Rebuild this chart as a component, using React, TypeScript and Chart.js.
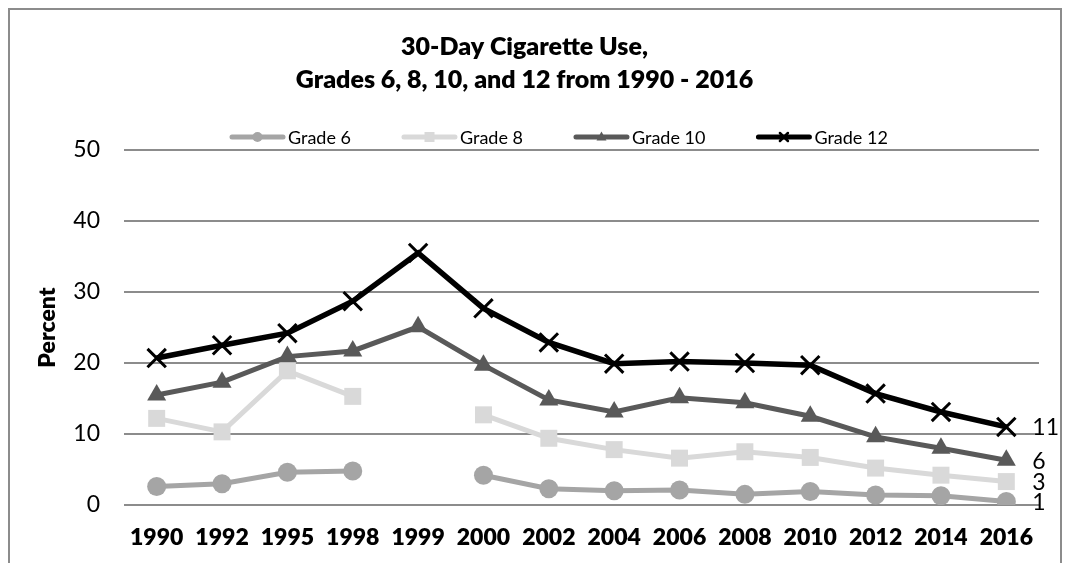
import React, { useEffect, useRef } from "react";
import { Chart, registerables } from "chart.js";

Chart.register(...registerables);

const categories = ["1990", "1992", "1995", "1998", "1999", "2000", "2002", "2004", "2006", "2008", "2010", "2012", "2014", "2016"];
const grade6 = [2.6, 3.0, 4.6, 4.8, null, 4.2, 2.3, 2.0, 2.1, 1.5, 1.9, 1.4, 1.3, 0.5];
const grade8 = [12.2, 10.3, 18.9, 15.3, null, 12.7, 9.4, 7.8, 6.6, 7.5, 6.7, 5.2, 4.2, 3.3];
const grade10 = [15.5, 17.3, 20.9, 21.7, 25.1, 19.7, 14.8, 13.1, 15.1, 14.4, 12.5, 9.6, 8.0, 6.3];
const grade12 = [20.7, 22.5, 24.2, 28.7, 35.5, 27.7, 22.9, 19.9, 20.2, 20.0, 19.7, 15.7, 13.1, 11.0];
const seriesLabels = ["Grade 6", "Grade 8", "Grade 10", "Grade 12"];
const endLabels = ["1", "3", "6", "11"];
const titleLines = ["30-Day Cigarette Use,", "Grades 6, 8, 10, and 12 from 1990 - 2016"];
const yTitle = "Percent";

const FONT = "Lato";
const colors = ["#a5a5a5", "#d9d9d9", "#595959", "#000000"];
const pointStyles = ["circle", "rect", "triangle", "crossRot"];

function drawMarker(ctx: CanvasRenderingContext2D, style: string, x: number, y: number, r: number, color: string) {
  ctx.save();
  ctx.fillStyle = color;
  ctx.strokeStyle = color;
  ctx.beginPath();
  if (style === "circle") {
    ctx.arc(x, y, r, 0, Math.PI * 2);
    ctx.fill();
  } else if (style === "rect") {
    ctx.rect(x - r, y - r, 2 * r, 2 * r);
    ctx.fill();
  } else if (style === "triangle") {
    ctx.moveTo(x, y - r * 1.1);
    ctx.lineTo(x + r, y + r * 0.7);
    ctx.lineTo(x - r, y + r * 0.7);
    ctx.closePath();
    ctx.fill();
  } else {
    ctx.lineWidth = 2.5;
    ctx.moveTo(x - r, y - r);
    ctx.lineTo(x + r, y + r);
    ctx.moveTo(x + r, y - r);
    ctx.lineTo(x - r, y + r);
    ctx.stroke();
  }
  ctx.restore();
}

const legendPlugin = {
  id: "customLegend",
  afterDraw(chart: any) {
    const ctx = chart.ctx as CanvasRenderingContext2D;
    const y = chart.chartArea.top - 13;
    let x = chart.chartArea.left + 106;
    ctx.save();
    ctx.font = `18px ${FONT}`;
    chart.data.datasets.forEach((ds: any, i: number) => {
      ctx.strokeStyle = colors[i];
      ctx.lineWidth = 5;
      ctx.lineCap = "round";
      ctx.beginPath();
      ctx.moveTo(x + 2, y);
      ctx.lineTo(x + 53, y);
      ctx.stroke();
      const mr = [5, 5, 5, 4][i];
      drawMarker(ctx, pointStyles[i], x + 27.5, y, mr, colors[i]);
      ctx.fillStyle = "#000";
      ctx.textBaseline = "middle";
      ctx.textAlign = "left";
      ctx.fillText(ds.label, x + 58, y + 1);
      x += 58 + ctx.measureText(ds.label).width + 51;
    });
    ctx.restore();
  },
};

const endLabelPlugin = {
  id: "endLabels",
  afterDatasetsDraw(chart: any) {
    const ctx = chart.ctx as CanvasRenderingContext2D;
    ctx.save();
    ctx.font = `23px ${FONT}`;
    ctx.fillStyle = "#000";
    ctx.textBaseline = "middle";
    ctx.textAlign = "left";
    chart.data.datasets.forEach((_ds: any, i: number) => {
      const meta = chart.getDatasetMeta(i);
      const pt = meta.data[meta.data.length - 1];
      if (pt) ctx.fillText(endLabels[i], pt.x + 26, pt.y + 1);
    });
    ctx.restore();
  },
};

export default function App() {
  const ref = useRef<HTMLCanvasElement>(null);
  useEffect(() => {
    if (!ref.current) return;
    const series = [grade6, grade8, grade10, grade12];
    const radii = [9.5, 12, 11, 13];
    const chart = new Chart(ref.current, {
      type: "line",
      data: {
        labels: categories,
        datasets: series.map((d, i) => ({
          label: seriesLabels[i],
          data: d,
          borderColor: colors[i],
          backgroundColor: colors[i],
          borderWidth: i === 3 ? 5.5 : 5,
          pointStyle: pointStyles[i] as any,
          pointRadius: radii[i],
          pointBackgroundColor: colors[i],
          pointBorderColor: colors[i],
          pointBorderWidth: i === 3 ? 3 : 0,
          spanGaps: false,
          tension: 0,
          fill: false,
          order: 4 - i,
        })),
      },
      options: {
        responsive: false,
        animation: false,
        layout: { padding: { left: 0, right: 21, top: 0, bottom: 0 } },
        plugins: {
          legend: { display: false },
          tooltip: { enabled: false },
          title: {
            display: true,
            text: titleLines,
            color: "#000",
            font: { family: FONT, size: 25, weight: "800", lineHeight: 1.3 },
            padding: { top: 21, bottom: 54 },
          },
        },
        scales: {
          x: {
            offset: true,
            afterFit: (scale: any) => {
              scale.height = 58;
            },
            grid: { display: false, drawTicks: false },
            border: { display: false },
            ticks: {
              color: "#000",
              font: { family: FONT, size: 23, weight: "800" },
              padding: 19,
              maxRotation: 0,
              autoSkip: false,
            },
          },
          y: {
            min: 0,
            max: 50,
            afterFit: (scale: any) => {
              scale.width = 114;
            },
            grid: { color: "#8c8c8c", lineWidth: 2, drawTicks: false },
            border: { display: false },
            ticks: {
              stepSize: 10,
              color: "#000",
              font: { family: FONT, size: 23 },
              padding: 24,
            },
            title: {
              display: true,
              text: yTitle,
              color: "#000",
              font: { family: FONT, size: 23, weight: "800" },
              padding: { top: 24, bottom: 0 },
            },
          },
        },
      },
      plugins: [legendPlugin, endLabelPlugin],
    });
    return () => chart.destroy();
  }, []);
  return (
    <div style={{ borderTop: "2px solid #8c8c8c", borderLeft: "2px solid #8c8c8c", borderRight: "2px solid #8c8c8c", width: 1050, height: 553 }}>
      <canvas ref={ref} width={1050} height={553} style={{ display: "block" }} />
    </div>
  );
}
